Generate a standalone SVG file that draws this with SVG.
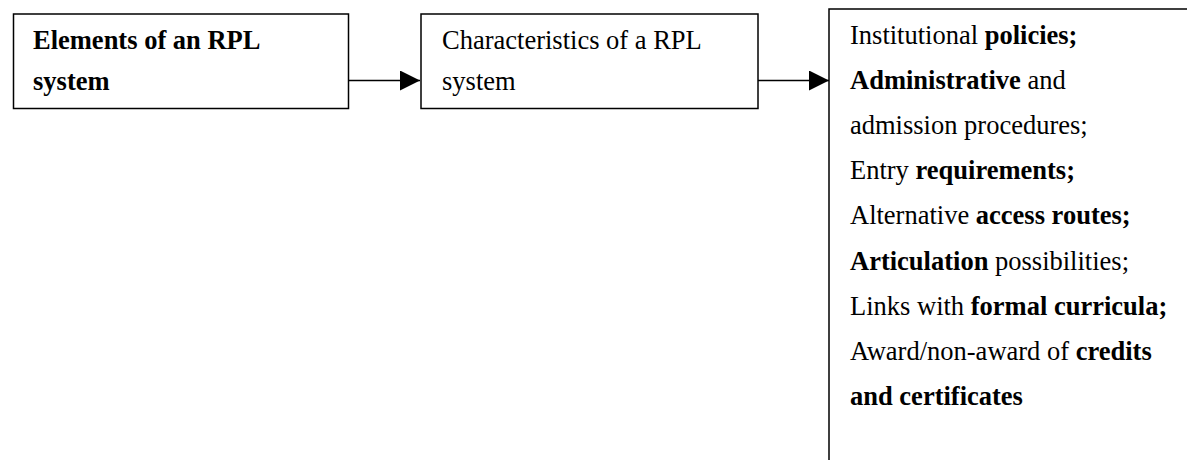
<svg xmlns="http://www.w3.org/2000/svg" width="1187" height="460" viewBox="0 0 1187 460">
<style>
.box{fill:#fff;stroke:#000;stroke-width:1.5}
text{font-family:"Liberation Serif","Times New Roman",serif;font-size:26.5px;fill:#000}
.b{font-weight:bold}
.conn{stroke:#000;stroke-width:1.5;fill:none}
</style>
<defs>
<marker id="ah" markerWidth="20" markerHeight="20" viewBox="0 0 20 20" refX="20" refY="10" markerUnits="userSpaceOnUse" orient="auto">
<path d="M0,0 L20,10 L0,20 Z" fill="#000"/>
</marker>
</defs>
<rect width="1187" height="460" fill="#fff"/>
<g id="node-elements">
<rect class="box" x="13.5" y="14" width="335" height="94.5"/>
<text x="33" y="49" class="b">Elements of an RPL</text>
<text x="33" y="90" class="b">system</text>
</g>
<g id="node-characteristics">
<rect class="box" x="421" y="14" width="337" height="94.5"/>
<text x="442" y="49">Characteristics of a RPL</text>
<text x="442" y="90">system</text>
</g>
<g id="node-list">
<rect class="box" x="829" y="9" width="400" height="500"/>
<text x="850" y="44">Institutional <tspan class="b">policies;</tspan></text>
<text x="850" y="89"><tspan class="b">Administrative</tspan> and</text>
<text x="850" y="134">admission procedures;</text>
<text x="850" y="179">Entry <tspan class="b">requirements;</tspan></text>
<text x="850" y="224">Alternative <tspan class="b">access routes;</tspan></text>
<text x="850" y="270"><tspan class="b">Articulation</tspan> possibilities;</text>
<text x="850" y="315">Links with <tspan class="b">formal curricula;</tspan></text>
<text x="850" y="360">Award/non-award of <tspan class="b">credits</tspan></text>
<text x="850" y="405" class="b">and certificates</text>
</g>
<g id="connectors">
<line class="conn" x1="348.5" y1="80.5" x2="420" y2="80.5" marker-end="url(#ah)"/>
<line class="conn" x1="758" y1="80.5" x2="829" y2="80.5" marker-end="url(#ah)"/>
</g>
</svg>
